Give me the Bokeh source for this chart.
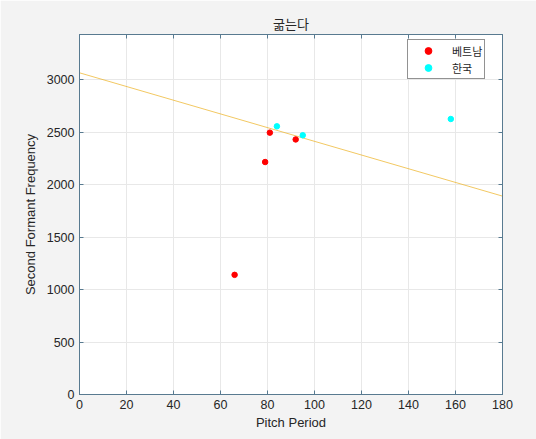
from bokeh.plotting import figure
from bokeh.models import Range1d, LinearAxis, Legend, LegendItem, FixedTicker
from bokeh.embed import file_html
from bokeh.resources import INLINE

title_text = "굶는다"
vn_label = "베트남"
kr_label = "한국"

vn_x = [66, 79, 81, 92]
vn_y = [1140, 2215, 2495, 2430]
kr_x = [84, 95, 158]
kr_y = [2555, 2470, 2625]

fit_x = [0, 180]
fit_y = [3065, 1890]

x_ticks = [0, 20, 40, 60, 80, 100, 120, 140, 160, 180]
y_ticks = [0, 500, 1000, 1500, 2000, 2500, 3000]

FONT = "Liberation Sans"
KFONT = "Noto Sans CJK KR"
AX = "#587a90"
TXT = "#262626"

p = figure(width=536, height=439, output_backend="svg", toolbar_location=None,
           x_range=Range1d(0, 180), y_range=Range1d(0, 3430),
           min_border_left=79, min_border_right=34, min_border_top=34, min_border_bottom=45)
p.background_fill_color = "white"
p.border_fill_color = "#f3f3f3"
p.outline_line_color = AX
p.outline_line_width = 1

p.title.text = title_text
p.title.text_font = KFONT
p.title.text_font_size = "13px"
p.title.text_font_style = "normal"
p.title.text_color = TXT
p.title.align = "center"
p.title.offset = 0
p.title.standoff = 3

for ax in (p.xaxis[0], p.yaxis[0]):
    ax.major_label_text_font = FONT
    ax.major_label_text_font_size = "12.5px"
    ax.major_label_text_color = TXT
    ax.axis_label_text_font = FONT
    ax.axis_label_text_font_size = "13px"
    ax.axis_label_text_font_style = "normal"
    ax.axis_label_text_color = TXT
    ax.axis_line_color = AX
    ax.major_tick_line_color = AX
    ax.major_tick_in = 4
    ax.major_tick_out = 0
    ax.minor_tick_line_color = None
    ax.major_label_standoff = 5

p.xaxis[0].ticker = FixedTicker(ticks=x_ticks)
p.yaxis[0].ticker = FixedTicker(ticks=y_ticks)
p.xaxis[0].axis_label = "Pitch Period"
p.yaxis[0].axis_label = "Second Formant Frequency"
p.xaxis[0].axis_label_standoff = 3
p.yaxis[0].axis_label_standoff = 6

top = LinearAxis(ticker=FixedTicker(ticks=x_ticks),
                 major_label_overrides={t: "" for t in x_ticks},
                 axis_line_color=AX, major_tick_line_color=AX, major_tick_in=4, major_tick_out=0,
                 minor_tick_line_color=None, major_label_standoff=0)
right = LinearAxis(ticker=FixedTicker(ticks=y_ticks),
                   major_label_overrides={t: "" for t in y_ticks},
                   axis_line_color=AX, major_tick_line_color=AX, major_tick_in=4, major_tick_out=0,
                   minor_tick_line_color=None, major_label_standoff=0)
p.add_layout(top, "above")
p.add_layout(right, "right")

p.xgrid.ticker = FixedTicker(ticks=x_ticks)
p.ygrid.ticker = FixedTicker(ticks=y_ticks)
p.xgrid.grid_line_color = "#e8e8e8"
p.ygrid.grid_line_color = "#e8e8e8"

p.line(fit_x, fit_y, line_color="#EDB120", line_width=1, line_alpha=0.7)
r_vn = p.scatter(vn_x, vn_y, size=5.5, fill_color="#ff0000", line_color="#ff0000")
r_kr = p.scatter(kr_x, kr_y, size=5.5, fill_color="#00ffff", line_color="#00ffff")

legend = Legend(items=[LegendItem(label=vn_label, renderers=[r_vn]),
                       LegendItem(label=kr_label, renderers=[r_kr])],
                location=(328, 315))
legend.label_text_font = KFONT
legend.label_text_font_size = "11px"
legend.label_text_color = TXT
legend.border_line_color = "#262626"
legend.border_line_width = 1
legend.background_fill_color = "white"
legend.background_fill_alpha = 1
legend.margin = 0
legend.padding = 2
legend.spacing = 0
legend.glyph_width = 36
legend.glyph_height = 17
legend.label_height = 17
legend.label_standoff = 6
p.add_layout(legend)

open("out.html", "w").write(file_html(p, INLINE))
